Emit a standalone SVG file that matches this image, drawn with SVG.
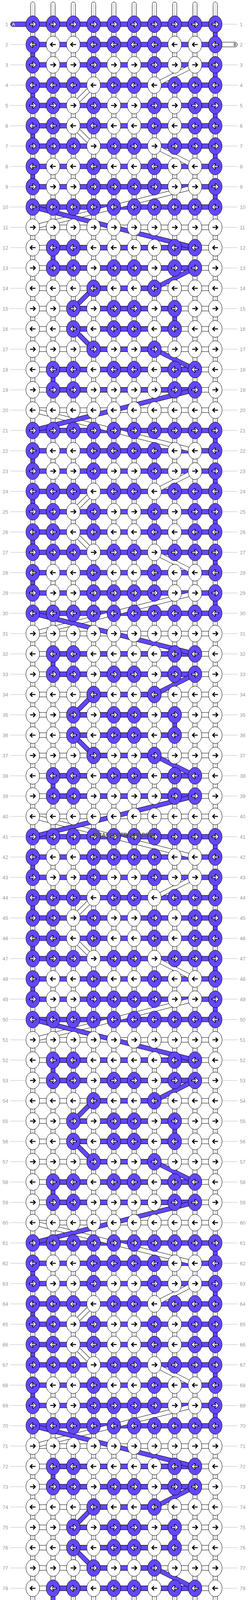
<svg xmlns="http://www.w3.org/2000/svg" width="636" height="4232" viewBox="0 0 636 4232">
<style>
.p{fill:#6347fd;stroke:#000;stroke-width:1}
.w{fill:#fff;stroke:#000;stroke-width:1}
.ab{fill:none;stroke:#000;stroke-width:2.6}
.ao{fill:none;stroke:#000;stroke-width:4.6;stroke-linecap:square}
.aw{fill:none;stroke:#fff;stroke-width:2.4}
.num{font-family:"Liberation Sans",Arial,sans-serif;font-size:13px;fill:#999}
.lt{font-family:"Liberation Sans",Arial,sans-serif;font-size:11px}
</style>
<defs>
<path id="ar" d="M-7 0H6M1-5.5L6.5 0 1 5.5"/>
<path id="al" d="M7 0H-6M-1-5.5L-6.5 0-1 5.5"/>
<g id="a"><ellipse rx="17.5" ry="21.5" class="p"/><use href="#ar" class="ao"/><use href="#ar" class="aw"/></g>
<g id="b"><ellipse rx="17.5" ry="21.5" class="w"/><use href="#ar" class="ab"/></g>
<g id="c"><ellipse rx="17.5" ry="21.5" class="p"/><use href="#al" class="ao"/><use href="#al" class="aw"/></g>
<g id="d"><ellipse rx="17.5" ry="21.5" class="w"/><use href="#al" class="ab"/></g>
<g id="DW" fill="none">
<path d="M500 166L396 218M240 218L188 270M188 322L240 374M396 374L500 426M500 478L84 582"/>
<path d="M84 1050L500 1154M500 1206L396 1258M240 1258L188 1310M188 1362L240 1414M396 1414L500 1466M500 1518L84 1622"/>
<path d="M84 2090L500 2194M500 2246L396 2298M240 2298L188 2350M188 2402L240 2454M396 2454L500 2506M500 2558L84 2662"/>
<path d="M84 3130L500 3234M500 3286L396 3338M240 3338L188 3390M188 3442L240 3494M396 3494L500 3546M500 3598L84 3702"/>
</g>
<g id="DP" fill="none">
<path d="M84 530L500 634M500 686L396 738M240 738L188 790M188 842L240 894M396 894L500 946M500 998L84 1102"/>
<path d="M84 1570L500 1674M500 1726L396 1778M240 1778L188 1830M188 1882L240 1934M396 1934L500 1986M500 2038L84 2142"/>
<path d="M84 2610L500 2714M500 2766L396 2818M240 2818L188 2870M188 2922L240 2974M396 2974L500 3026M500 3078L84 3182"/>
<path d="M84 3650L500 3754M500 3806L396 3858M240 3858L188 3910M188 3962L240 4014M396 4014L500 4066"/>
</g>
</defs>
<rect width="636" height="4232" fill="#fff"/>
<g id="warps">
<rect x="78.5" y="5" width="11" height="4222" rx="5.5" class="w"/>
<rect x="130.5" y="5" width="11" height="4222" rx="5.5" class="w"/>
<rect x="182.5" y="5" width="11" height="4222" rx="5.5" class="w"/>
<rect x="234.5" y="5" width="11" height="4222" rx="5.5" class="w"/>
<rect x="286.5" y="5" width="11" height="4222" rx="5.5" class="w"/>
<rect x="338.5" y="5" width="11" height="4222" rx="5.5" class="w"/>
<rect x="390.5" y="5" width="11" height="4222" rx="5.5" class="w"/>
<rect x="442.5" y="5" width="11" height="4222" rx="5.5" class="w"/>
<rect x="494.5" y="5" width="11" height="4222" rx="5.5" class="w"/>
<rect x="546.5" y="5" width="11" height="4222" rx="5.5" class="w"/>
<path d="M82.5 10V4222M85.5 10V4222M134.5 10V4222M137.5 10V4222M186.5 10V4222M189.5 10V4222M238.5 10V4222M241.5 10V4222M290.5 10V4222M293.5 10V4222M342.5 10V4222M345.5 10V4222M394.5 10V4222M397.5 10V4222M446.5 10V4222M449.5 10V4222M498.5 10V4222M501.5 10V4222M550.5 10V4222M553.5 10V4222" stroke="#bbb" stroke-width="1" fill="none"/>
</g>
<g id="connectors">
<rect x="545" y="108" width="64" height="12" rx="6" class="w"/>
<rect x="27" y="4164" width="525" height="12" rx="6" class="w"/>
<path class="w" d="M84 576h468v12H84zM84 628h468v12H84zM84 680h468v12H84zM84 732h468v12H84zM84 784h468v12H84zM84 836h468v12H84zM84 888h468v12H84zM84 940h468v12H84zM84 992h468v12H84zM84 1044h468v12H84zM84 1616h468v12H84zM84 1668h468v12H84zM84 1720h468v12H84zM84 1772h468v12H84zM84 1824h468v12H84zM84 1876h468v12H84zM84 1928h468v12H84zM84 1980h468v12H84zM84 2032h468v12H84zM84 2084h468v12H84zM84 2656h468v12H84zM84 2708h468v12H84zM84 2760h468v12H84zM84 2812h468v12H84zM84 2864h468v12H84zM84 2916h468v12H84zM84 2968h468v12H84zM84 3020h468v12H84zM84 3072h468v12H84zM84 3124h468v12H84zM84 3696h468v12H84zM84 3748h468v12H84zM84 3800h468v12H84zM84 3852h468v12H84zM84 3904h468v12H84zM84 3956h468v12H84zM84 4008h468v12H84zM84 4060h468v12H84zM84 4112h468v12H84z"/>
<rect x="27" y="56" width="525" height="12" rx="6" class="p"/>
<rect x="136" y="4112" width="473" height="12" rx="6" class="p"/>
<path class="p" d="M84 108h468v12H84zM84 160h468v12H84zM84 212h468v12H84zM84 264h468v12H84zM84 316h468v12H84zM84 368h468v12H84zM84 420h468v12H84zM84 472h468v12H84zM84 524h468v12H84zM84 1096h468v12H84zM84 1148h468v12H84zM84 1200h468v12H84zM84 1252h468v12H84zM84 1304h468v12H84zM84 1356h468v12H84zM84 1408h468v12H84zM84 1460h468v12H84zM84 1512h468v12H84zM84 1564h468v12H84zM84 2136h468v12H84zM84 2188h468v12H84zM84 2240h468v12H84zM84 2292h468v12H84zM84 2344h468v12H84zM84 2396h468v12H84zM84 2448h468v12H84zM84 2500h468v12H84zM84 2552h468v12H84zM84 2604h468v12H84zM84 3176h468v12H84zM84 3228h468v12H84zM84 3280h468v12H84zM84 3332h468v12H84zM84 3384h468v12H84zM84 3436h468v12H84zM84 3488h468v12H84zM84 3540h468v12H84zM84 3592h468v12H84zM84 3644h468v12H84z"/>
<path class="p" d="M136 628h364v12H136zM136 680h364v12H136zM136 940h364v12H136zM136 992h364v12H136zM136 1668h364v12H136zM136 1720h364v12H136zM136 1980h364v12H136zM136 2032h364v12H136zM136 2708h364v12H136zM136 2760h364v12H136zM136 3020h364v12H136zM136 3072h364v12H136zM136 3748h364v12H136zM136 3800h364v12H136zM136 4060h364v12H136z"/>
<path class="p" d="M240 732h156v12H240zM240 888h156v12H240zM240 1772h156v12H240zM240 1928h156v12H240zM240 2812h156v12H240zM240 2968h156v12H240zM240 3852h156v12H240zM240 4008h156v12H240z"/>
<path class="p" d="M188 784h260v12H188zM188 836h260v12H188zM188 1824h260v12H188zM188 1876h260v12H188zM188 2864h260v12H188zM188 2916h260v12H188zM188 3904h260v12H188zM188 3956h260v12H188z"/>
<path class="p" d="M546.5 77h11v22h-11zM546.5 181h11v22h-11zM546.5 285h11v22h-11zM546.5 389h11v22h-11zM546.5 493h11v22h-11zM78.5 129h11v22h-11zM78.5 233h11v22h-11zM78.5 337h11v22h-11zM78.5 441h11v22h-11zM130.5 649h11v22h-11zM130.5 961h11v22h-11zM442.5 805h11v22h-11zM546.5 1117h11v22h-11zM546.5 1221h11v22h-11zM546.5 1325h11v22h-11zM546.5 1429h11v22h-11zM546.5 1533h11v22h-11zM78.5 1169h11v22h-11zM78.5 1273h11v22h-11zM78.5 1377h11v22h-11zM78.5 1481h11v22h-11zM130.5 1689h11v22h-11zM130.5 2001h11v22h-11zM442.5 1845h11v22h-11zM546.5 2157h11v22h-11zM546.5 2261h11v22h-11zM546.5 2365h11v22h-11zM546.5 2469h11v22h-11zM546.5 2573h11v22h-11zM78.5 2209h11v22h-11zM78.5 2313h11v22h-11zM78.5 2417h11v22h-11zM78.5 2521h11v22h-11zM130.5 2729h11v22h-11zM130.5 3041h11v22h-11zM442.5 2885h11v22h-11zM546.5 3197h11v22h-11zM546.5 3301h11v22h-11zM546.5 3405h11v22h-11zM546.5 3509h11v22h-11zM546.5 3613h11v22h-11zM78.5 3249h11v22h-11zM78.5 3353h11v22h-11zM78.5 3457h11v22h-11zM78.5 3561h11v22h-11zM130.5 3769h11v22h-11zM130.5 4081h11v22h-11zM442.5 3925h11v22h-11z"/>
<use href="#DW" stroke="#000" stroke-width="12"/>
<use href="#DW" stroke="#fff" stroke-width="10"/>
<use href="#DP" stroke="#000" stroke-width="12"/>
<use href="#DP" stroke="#6347fd" stroke-width="10"/>
</g>
<g id="nodes">
<g id="row1" transform="translate(0 62)"><use id="n1-1" href="#a" x="84"/><use id="n1-2" href="#a" x="136"/><use id="n1-3" href="#a" x="188"/><use id="n1-4" href="#a" x="240"/><use id="n1-5" href="#a" x="292"/><use id="n1-6" href="#a" x="344"/><use id="n1-7" href="#a" x="396"/><use id="n1-8" href="#a" x="448"/><use id="n1-9" href="#a" x="500"/><use id="n1-10" href="#a" x="552"/></g>
<g id="row2" transform="translate(0 114)"><use id="n2-1" href="#c" x="84"/><use id="n2-2" href="#d" x="136"/><use id="n2-3" href="#d" x="188"/><use id="n2-4" href="#c" x="240"/><use id="n2-5" href="#c" x="292"/><use id="n2-6" href="#c" x="344"/><use id="n2-7" href="#c" x="396"/><use id="n2-8" href="#d" x="448"/><use id="n2-9" href="#d" x="500"/><use id="n2-10" href="#c" x="552"/></g>
<g id="row3" transform="translate(0 166)"><use id="n3-1" href="#a" x="84"/><use id="n3-2" href="#b" x="136"/><use id="n3-3" href="#b" x="188"/><use id="n3-4" href="#a" x="240"/><use id="n3-5" href="#b" x="292"/><use id="n3-6" href="#b" x="344"/><use id="n3-7" href="#a" x="396"/><use id="n3-8" href="#b" x="448"/><use id="n3-9" href="#b" x="500"/><use id="n3-10" href="#a" x="552"/></g>
<g id="row4" transform="translate(0 218)"><use id="n4-1" href="#c" x="84"/><use id="n4-2" href="#c" x="136"/><use id="n4-3" href="#c" x="188"/><use id="n4-4" href="#d" x="240"/><use id="n4-5" href="#c" x="292"/><use id="n4-6" href="#c" x="344"/><use id="n4-7" href="#d" x="396"/><use id="n4-8" href="#c" x="448"/><use id="n4-9" href="#c" x="500"/><use id="n4-10" href="#c" x="552"/></g>
<g id="row5" transform="translate(0 270)"><use id="n5-1" href="#a" x="84"/><use id="n5-2" href="#a" x="136"/><use id="n5-3" href="#b" x="188"/><use id="n5-4" href="#a" x="240"/><use id="n5-5" href="#b" x="292"/><use id="n5-6" href="#b" x="344"/><use id="n5-7" href="#a" x="396"/><use id="n5-8" href="#b" x="448"/><use id="n5-9" href="#a" x="500"/><use id="n5-10" href="#a" x="552"/></g>
<g id="row6" transform="translate(0 322)"><use id="n6-1" href="#c" x="84"/><use id="n6-2" href="#c" x="136"/><use id="n6-3" href="#d" x="188"/><use id="n6-4" href="#c" x="240"/><use id="n6-5" href="#d" x="292"/><use id="n6-6" href="#d" x="344"/><use id="n6-7" href="#c" x="396"/><use id="n6-8" href="#d" x="448"/><use id="n6-9" href="#c" x="500"/><use id="n6-10" href="#c" x="552"/></g>
<g id="row7" transform="translate(0 374)"><use id="n7-1" href="#a" x="84"/><use id="n7-2" href="#a" x="136"/><use id="n7-3" href="#a" x="188"/><use id="n7-4" href="#b" x="240"/><use id="n7-5" href="#a" x="292"/><use id="n7-6" href="#a" x="344"/><use id="n7-7" href="#b" x="396"/><use id="n7-8" href="#a" x="448"/><use id="n7-9" href="#a" x="500"/><use id="n7-10" href="#a" x="552"/></g>
<g id="row8" transform="translate(0 426)"><use id="n8-1" href="#c" x="84"/><use id="n8-2" href="#d" x="136"/><use id="n8-3" href="#d" x="188"/><use id="n8-4" href="#c" x="240"/><use id="n8-5" href="#d" x="292"/><use id="n8-6" href="#d" x="344"/><use id="n8-7" href="#c" x="396"/><use id="n8-8" href="#d" x="448"/><use id="n8-9" href="#d" x="500"/><use id="n8-10" href="#c" x="552"/></g>
<g id="row9" transform="translate(0 478)"><use id="n9-1" href="#a" x="84"/><use id="n9-2" href="#b" x="136"/><use id="n9-3" href="#b" x="188"/><use id="n9-4" href="#a" x="240"/><use id="n9-5" href="#a" x="292"/><use id="n9-6" href="#a" x="344"/><use id="n9-7" href="#a" x="396"/><use id="n9-8" href="#b" x="448"/><use id="n9-9" href="#b" x="500"/><use id="n9-10" href="#a" x="552"/></g>
<g id="row10" transform="translate(0 530)"><use id="n10-1" href="#c" x="84"/><use id="n10-2" href="#c" x="136"/><use id="n10-3" href="#c" x="188"/><use id="n10-4" href="#c" x="240"/><use id="n10-5" href="#c" x="292"/><use id="n10-6" href="#c" x="344"/><use id="n10-7" href="#c" x="396"/><use id="n10-8" href="#c" x="448"/><use id="n10-9" href="#c" x="500"/><use id="n10-10" href="#c" x="552"/></g>
<g id="row11" transform="translate(0 582)"><use id="n11-1" href="#b" x="84"/><use id="n11-2" href="#b" x="136"/><use id="n11-3" href="#b" x="188"/><use id="n11-4" href="#b" x="240"/><use id="n11-5" href="#b" x="292"/><use id="n11-6" href="#b" x="344"/><use id="n11-7" href="#b" x="396"/><use id="n11-8" href="#b" x="448"/><use id="n11-9" href="#b" x="500"/><use id="n11-10" href="#b" x="552"/></g>
<g id="row12" transform="translate(0 634)"><use id="n12-1" href="#d" x="84"/><use id="n12-2" href="#c" x="136"/><use id="n12-3" href="#c" x="188"/><use id="n12-4" href="#d" x="240"/><use id="n12-5" href="#d" x="292"/><use id="n12-6" href="#d" x="344"/><use id="n12-7" href="#d" x="396"/><use id="n12-8" href="#c" x="448"/><use id="n12-9" href="#c" x="500"/><use id="n12-10" href="#d" x="552"/></g>
<g id="row13" transform="translate(0 686)"><use id="n13-1" href="#b" x="84"/><use id="n13-2" href="#a" x="136"/><use id="n13-3" href="#a" x="188"/><use id="n13-4" href="#b" x="240"/><use id="n13-5" href="#a" x="292"/><use id="n13-6" href="#a" x="344"/><use id="n13-7" href="#b" x="396"/><use id="n13-8" href="#a" x="448"/><use id="n13-9" href="#a" x="500"/><use id="n13-10" href="#b" x="552"/></g>
<g id="row14" transform="translate(0 738)"><use id="n14-1" href="#d" x="84"/><use id="n14-2" href="#d" x="136"/><use id="n14-3" href="#d" x="188"/><use id="n14-4" href="#c" x="240"/><use id="n14-5" href="#d" x="292"/><use id="n14-6" href="#d" x="344"/><use id="n14-7" href="#c" x="396"/><use id="n14-8" href="#d" x="448"/><use id="n14-9" href="#d" x="500"/><use id="n14-10" href="#d" x="552"/></g>
<g id="row15" transform="translate(0 790)"><use id="n15-1" href="#b" x="84"/><use id="n15-2" href="#b" x="136"/><use id="n15-3" href="#a" x="188"/><use id="n15-4" href="#b" x="240"/><use id="n15-5" href="#a" x="292"/><use id="n15-6" href="#a" x="344"/><use id="n15-7" href="#b" x="396"/><use id="n15-8" href="#a" x="448"/><use id="n15-9" href="#b" x="500"/><use id="n15-10" href="#b" x="552"/></g>
<g id="row16" transform="translate(0 842)"><use id="n16-1" href="#d" x="84"/><use id="n16-2" href="#d" x="136"/><use id="n16-3" href="#c" x="188"/><use id="n16-4" href="#d" x="240"/><use id="n16-5" href="#c" x="292"/><use id="n16-6" href="#c" x="344"/><use id="n16-7" href="#d" x="396"/><use id="n16-8" href="#c" x="448"/><use id="n16-9" href="#d" x="500"/><use id="n16-10" href="#d" x="552"/></g>
<g id="row17" transform="translate(0 894)"><use id="n17-1" href="#b" x="84"/><use id="n17-2" href="#b" x="136"/><use id="n17-3" href="#b" x="188"/><use id="n17-4" href="#a" x="240"/><use id="n17-5" href="#b" x="292"/><use id="n17-6" href="#b" x="344"/><use id="n17-7" href="#a" x="396"/><use id="n17-8" href="#b" x="448"/><use id="n17-9" href="#b" x="500"/><use id="n17-10" href="#b" x="552"/></g>
<g id="row18" transform="translate(0 946)"><use id="n18-1" href="#d" x="84"/><use id="n18-2" href="#c" x="136"/><use id="n18-3" href="#c" x="188"/><use id="n18-4" href="#d" x="240"/><use id="n18-5" href="#c" x="292"/><use id="n18-6" href="#c" x="344"/><use id="n18-7" href="#d" x="396"/><use id="n18-8" href="#c" x="448"/><use id="n18-9" href="#c" x="500"/><use id="n18-10" href="#d" x="552"/></g>
<g id="row19" transform="translate(0 998)"><use id="n19-1" href="#b" x="84"/><use id="n19-2" href="#a" x="136"/><use id="n19-3" href="#a" x="188"/><use id="n19-4" href="#b" x="240"/><use id="n19-5" href="#b" x="292"/><use id="n19-6" href="#b" x="344"/><use id="n19-7" href="#b" x="396"/><use id="n19-8" href="#a" x="448"/><use id="n19-9" href="#a" x="500"/><use id="n19-10" href="#b" x="552"/></g>
<g id="row20" transform="translate(0 1050)"><use id="n20-1" href="#d" x="84"/><use id="n20-2" href="#d" x="136"/><use id="n20-3" href="#d" x="188"/><use id="n20-4" href="#d" x="240"/><use id="n20-5" href="#d" x="292"/><use id="n20-6" href="#d" x="344"/><use id="n20-7" href="#d" x="396"/><use id="n20-8" href="#d" x="448"/><use id="n20-9" href="#d" x="500"/><use id="n20-10" href="#d" x="552"/></g>
<g id="row21" transform="translate(0 1102)"><use id="n21-1" href="#a" x="84"/><use id="n21-2" href="#a" x="136"/><use id="n21-3" href="#a" x="188"/><use id="n21-4" href="#a" x="240"/><use id="n21-5" href="#a" x="292"/><use id="n21-6" href="#a" x="344"/><use id="n21-7" href="#a" x="396"/><use id="n21-8" href="#a" x="448"/><use id="n21-9" href="#a" x="500"/><use id="n21-10" href="#a" x="552"/></g>
<g id="row22" transform="translate(0 1154)"><use id="n22-1" href="#c" x="84"/><use id="n22-2" href="#d" x="136"/><use id="n22-3" href="#d" x="188"/><use id="n22-4" href="#c" x="240"/><use id="n22-5" href="#c" x="292"/><use id="n22-6" href="#c" x="344"/><use id="n22-7" href="#c" x="396"/><use id="n22-8" href="#d" x="448"/><use id="n22-9" href="#d" x="500"/><use id="n22-10" href="#c" x="552"/></g>
<g id="row23" transform="translate(0 1206)"><use id="n23-1" href="#a" x="84"/><use id="n23-2" href="#b" x="136"/><use id="n23-3" href="#b" x="188"/><use id="n23-4" href="#a" x="240"/><use id="n23-5" href="#b" x="292"/><use id="n23-6" href="#b" x="344"/><use id="n23-7" href="#a" x="396"/><use id="n23-8" href="#b" x="448"/><use id="n23-9" href="#b" x="500"/><use id="n23-10" href="#a" x="552"/></g>
<g id="row24" transform="translate(0 1258)"><use id="n24-1" href="#c" x="84"/><use id="n24-2" href="#c" x="136"/><use id="n24-3" href="#c" x="188"/><use id="n24-4" href="#d" x="240"/><use id="n24-5" href="#c" x="292"/><use id="n24-6" href="#c" x="344"/><use id="n24-7" href="#d" x="396"/><use id="n24-8" href="#c" x="448"/><use id="n24-9" href="#c" x="500"/><use id="n24-10" href="#c" x="552"/></g>
<g id="row25" transform="translate(0 1310)"><use id="n25-1" href="#a" x="84"/><use id="n25-2" href="#a" x="136"/><use id="n25-3" href="#b" x="188"/><use id="n25-4" href="#a" x="240"/><use id="n25-5" href="#b" x="292"/><use id="n25-6" href="#b" x="344"/><use id="n25-7" href="#a" x="396"/><use id="n25-8" href="#b" x="448"/><use id="n25-9" href="#a" x="500"/><use id="n25-10" href="#a" x="552"/></g>
<g id="row26" transform="translate(0 1362)"><use id="n26-1" href="#c" x="84"/><use id="n26-2" href="#c" x="136"/><use id="n26-3" href="#d" x="188"/><use id="n26-4" href="#c" x="240"/><use id="n26-5" href="#d" x="292"/><use id="n26-6" href="#d" x="344"/><use id="n26-7" href="#c" x="396"/><use id="n26-8" href="#d" x="448"/><use id="n26-9" href="#c" x="500"/><use id="n26-10" href="#c" x="552"/></g>
<g id="row27" transform="translate(0 1414)"><use id="n27-1" href="#a" x="84"/><use id="n27-2" href="#a" x="136"/><use id="n27-3" href="#a" x="188"/><use id="n27-4" href="#b" x="240"/><use id="n27-5" href="#a" x="292"/><use id="n27-6" href="#a" x="344"/><use id="n27-7" href="#b" x="396"/><use id="n27-8" href="#a" x="448"/><use id="n27-9" href="#a" x="500"/><use id="n27-10" href="#a" x="552"/></g>
<g id="row28" transform="translate(0 1466)"><use id="n28-1" href="#c" x="84"/><use id="n28-2" href="#d" x="136"/><use id="n28-3" href="#d" x="188"/><use id="n28-4" href="#c" x="240"/><use id="n28-5" href="#d" x="292"/><use id="n28-6" href="#d" x="344"/><use id="n28-7" href="#c" x="396"/><use id="n28-8" href="#d" x="448"/><use id="n28-9" href="#d" x="500"/><use id="n28-10" href="#c" x="552"/></g>
<g id="row29" transform="translate(0 1518)"><use id="n29-1" href="#a" x="84"/><use id="n29-2" href="#b" x="136"/><use id="n29-3" href="#b" x="188"/><use id="n29-4" href="#a" x="240"/><use id="n29-5" href="#a" x="292"/><use id="n29-6" href="#a" x="344"/><use id="n29-7" href="#a" x="396"/><use id="n29-8" href="#b" x="448"/><use id="n29-9" href="#b" x="500"/><use id="n29-10" href="#a" x="552"/></g>
<g id="row30" transform="translate(0 1570)"><use id="n30-1" href="#c" x="84"/><use id="n30-2" href="#c" x="136"/><use id="n30-3" href="#c" x="188"/><use id="n30-4" href="#c" x="240"/><use id="n30-5" href="#c" x="292"/><use id="n30-6" href="#c" x="344"/><use id="n30-7" href="#c" x="396"/><use id="n30-8" href="#c" x="448"/><use id="n30-9" href="#c" x="500"/><use id="n30-10" href="#c" x="552"/></g>
<g id="row31" transform="translate(0 1622)"><use id="n31-1" href="#b" x="84"/><use id="n31-2" href="#b" x="136"/><use id="n31-3" href="#b" x="188"/><use id="n31-4" href="#b" x="240"/><use id="n31-5" href="#b" x="292"/><use id="n31-6" href="#b" x="344"/><use id="n31-7" href="#b" x="396"/><use id="n31-8" href="#b" x="448"/><use id="n31-9" href="#b" x="500"/><use id="n31-10" href="#b" x="552"/></g>
<g id="row32" transform="translate(0 1674)"><use id="n32-1" href="#d" x="84"/><use id="n32-2" href="#c" x="136"/><use id="n32-3" href="#c" x="188"/><use id="n32-4" href="#d" x="240"/><use id="n32-5" href="#d" x="292"/><use id="n32-6" href="#d" x="344"/><use id="n32-7" href="#d" x="396"/><use id="n32-8" href="#c" x="448"/><use id="n32-9" href="#c" x="500"/><use id="n32-10" href="#d" x="552"/></g>
<g id="row33" transform="translate(0 1726)"><use id="n33-1" href="#b" x="84"/><use id="n33-2" href="#a" x="136"/><use id="n33-3" href="#a" x="188"/><use id="n33-4" href="#b" x="240"/><use id="n33-5" href="#a" x="292"/><use id="n33-6" href="#a" x="344"/><use id="n33-7" href="#b" x="396"/><use id="n33-8" href="#a" x="448"/><use id="n33-9" href="#a" x="500"/><use id="n33-10" href="#b" x="552"/></g>
<g id="row34" transform="translate(0 1778)"><use id="n34-1" href="#d" x="84"/><use id="n34-2" href="#d" x="136"/><use id="n34-3" href="#d" x="188"/><use id="n34-4" href="#c" x="240"/><use id="n34-5" href="#d" x="292"/><use id="n34-6" href="#d" x="344"/><use id="n34-7" href="#c" x="396"/><use id="n34-8" href="#d" x="448"/><use id="n34-9" href="#d" x="500"/><use id="n34-10" href="#d" x="552"/></g>
<g id="row35" transform="translate(0 1830)"><use id="n35-1" href="#b" x="84"/><use id="n35-2" href="#b" x="136"/><use id="n35-3" href="#a" x="188"/><use id="n35-4" href="#b" x="240"/><use id="n35-5" href="#a" x="292"/><use id="n35-6" href="#a" x="344"/><use id="n35-7" href="#b" x="396"/><use id="n35-8" href="#a" x="448"/><use id="n35-9" href="#b" x="500"/><use id="n35-10" href="#b" x="552"/></g>
<g id="row36" transform="translate(0 1882)"><use id="n36-1" href="#d" x="84"/><use id="n36-2" href="#d" x="136"/><use id="n36-3" href="#c" x="188"/><use id="n36-4" href="#d" x="240"/><use id="n36-5" href="#c" x="292"/><use id="n36-6" href="#c" x="344"/><use id="n36-7" href="#d" x="396"/><use id="n36-8" href="#c" x="448"/><use id="n36-9" href="#d" x="500"/><use id="n36-10" href="#d" x="552"/></g>
<g id="row37" transform="translate(0 1934)"><use id="n37-1" href="#b" x="84"/><use id="n37-2" href="#b" x="136"/><use id="n37-3" href="#b" x="188"/><use id="n37-4" href="#a" x="240"/><use id="n37-5" href="#b" x="292"/><use id="n37-6" href="#b" x="344"/><use id="n37-7" href="#a" x="396"/><use id="n37-8" href="#b" x="448"/><use id="n37-9" href="#b" x="500"/><use id="n37-10" href="#b" x="552"/></g>
<g id="row38" transform="translate(0 1986)"><use id="n38-1" href="#d" x="84"/><use id="n38-2" href="#c" x="136"/><use id="n38-3" href="#c" x="188"/><use id="n38-4" href="#d" x="240"/><use id="n38-5" href="#c" x="292"/><use id="n38-6" href="#c" x="344"/><use id="n38-7" href="#d" x="396"/><use id="n38-8" href="#c" x="448"/><use id="n38-9" href="#c" x="500"/><use id="n38-10" href="#d" x="552"/></g>
<g id="row39" transform="translate(0 2038)"><use id="n39-1" href="#b" x="84"/><use id="n39-2" href="#a" x="136"/><use id="n39-3" href="#a" x="188"/><use id="n39-4" href="#b" x="240"/><use id="n39-5" href="#b" x="292"/><use id="n39-6" href="#b" x="344"/><use id="n39-7" href="#b" x="396"/><use id="n39-8" href="#a" x="448"/><use id="n39-9" href="#a" x="500"/><use id="n39-10" href="#b" x="552"/></g>
<g id="row40" transform="translate(0 2090)"><use id="n40-1" href="#d" x="84"/><use id="n40-2" href="#d" x="136"/><use id="n40-3" href="#d" x="188"/><use id="n40-4" href="#d" x="240"/><use id="n40-5" href="#d" x="292"/><use id="n40-6" href="#d" x="344"/><use id="n40-7" href="#d" x="396"/><use id="n40-8" href="#d" x="448"/><use id="n40-9" href="#d" x="500"/><use id="n40-10" href="#d" x="552"/></g>
<g id="row41" transform="translate(0 2142)"><use id="n41-1" href="#a" x="84"/><use id="n41-2" href="#a" x="136"/><use id="n41-3" href="#a" x="188"/><use id="n41-4" href="#a" x="240"/><use id="n41-5" href="#a" x="292"/><use id="n41-6" href="#a" x="344"/><use id="n41-7" href="#a" x="396"/><use id="n41-8" href="#a" x="448"/><use id="n41-9" href="#a" x="500"/><use id="n41-10" href="#a" x="552"/></g>
<g id="row42" transform="translate(0 2194)"><use id="n42-1" href="#c" x="84"/><use id="n42-2" href="#d" x="136"/><use id="n42-3" href="#d" x="188"/><use id="n42-4" href="#c" x="240"/><use id="n42-5" href="#c" x="292"/><use id="n42-6" href="#c" x="344"/><use id="n42-7" href="#c" x="396"/><use id="n42-8" href="#d" x="448"/><use id="n42-9" href="#d" x="500"/><use id="n42-10" href="#c" x="552"/></g>
<g id="row43" transform="translate(0 2246)"><use id="n43-1" href="#a" x="84"/><use id="n43-2" href="#b" x="136"/><use id="n43-3" href="#b" x="188"/><use id="n43-4" href="#a" x="240"/><use id="n43-5" href="#b" x="292"/><use id="n43-6" href="#b" x="344"/><use id="n43-7" href="#a" x="396"/><use id="n43-8" href="#b" x="448"/><use id="n43-9" href="#b" x="500"/><use id="n43-10" href="#a" x="552"/></g>
<g id="row44" transform="translate(0 2298)"><use id="n44-1" href="#c" x="84"/><use id="n44-2" href="#c" x="136"/><use id="n44-3" href="#c" x="188"/><use id="n44-4" href="#d" x="240"/><use id="n44-5" href="#c" x="292"/><use id="n44-6" href="#c" x="344"/><use id="n44-7" href="#d" x="396"/><use id="n44-8" href="#c" x="448"/><use id="n44-9" href="#c" x="500"/><use id="n44-10" href="#c" x="552"/></g>
<g id="row45" transform="translate(0 2350)"><use id="n45-1" href="#a" x="84"/><use id="n45-2" href="#a" x="136"/><use id="n45-3" href="#b" x="188"/><use id="n45-4" href="#a" x="240"/><use id="n45-5" href="#b" x="292"/><use id="n45-6" href="#b" x="344"/><use id="n45-7" href="#a" x="396"/><use id="n45-8" href="#b" x="448"/><use id="n45-9" href="#a" x="500"/><use id="n45-10" href="#a" x="552"/></g>
<g id="row46" transform="translate(0 2402)"><use id="n46-1" href="#c" x="84"/><use id="n46-2" href="#c" x="136"/><use id="n46-3" href="#d" x="188"/><use id="n46-4" href="#c" x="240"/><use id="n46-5" href="#d" x="292"/><use id="n46-6" href="#d" x="344"/><use id="n46-7" href="#c" x="396"/><use id="n46-8" href="#d" x="448"/><use id="n46-9" href="#c" x="500"/><use id="n46-10" href="#c" x="552"/></g>
<g id="row47" transform="translate(0 2454)"><use id="n47-1" href="#a" x="84"/><use id="n47-2" href="#a" x="136"/><use id="n47-3" href="#a" x="188"/><use id="n47-4" href="#b" x="240"/><use id="n47-5" href="#a" x="292"/><use id="n47-6" href="#a" x="344"/><use id="n47-7" href="#b" x="396"/><use id="n47-8" href="#a" x="448"/><use id="n47-9" href="#a" x="500"/><use id="n47-10" href="#a" x="552"/></g>
<g id="row48" transform="translate(0 2506)"><use id="n48-1" href="#c" x="84"/><use id="n48-2" href="#d" x="136"/><use id="n48-3" href="#d" x="188"/><use id="n48-4" href="#c" x="240"/><use id="n48-5" href="#d" x="292"/><use id="n48-6" href="#d" x="344"/><use id="n48-7" href="#c" x="396"/><use id="n48-8" href="#d" x="448"/><use id="n48-9" href="#d" x="500"/><use id="n48-10" href="#c" x="552"/></g>
<g id="row49" transform="translate(0 2558)"><use id="n49-1" href="#a" x="84"/><use id="n49-2" href="#b" x="136"/><use id="n49-3" href="#b" x="188"/><use id="n49-4" href="#a" x="240"/><use id="n49-5" href="#a" x="292"/><use id="n49-6" href="#a" x="344"/><use id="n49-7" href="#a" x="396"/><use id="n49-8" href="#b" x="448"/><use id="n49-9" href="#b" x="500"/><use id="n49-10" href="#a" x="552"/></g>
<g id="row50" transform="translate(0 2610)"><use id="n50-1" href="#c" x="84"/><use id="n50-2" href="#c" x="136"/><use id="n50-3" href="#c" x="188"/><use id="n50-4" href="#c" x="240"/><use id="n50-5" href="#c" x="292"/><use id="n50-6" href="#c" x="344"/><use id="n50-7" href="#c" x="396"/><use id="n50-8" href="#c" x="448"/><use id="n50-9" href="#c" x="500"/><use id="n50-10" href="#c" x="552"/></g>
<g id="row51" transform="translate(0 2662)"><use id="n51-1" href="#b" x="84"/><use id="n51-2" href="#b" x="136"/><use id="n51-3" href="#b" x="188"/><use id="n51-4" href="#b" x="240"/><use id="n51-5" href="#b" x="292"/><use id="n51-6" href="#b" x="344"/><use id="n51-7" href="#b" x="396"/><use id="n51-8" href="#b" x="448"/><use id="n51-9" href="#b" x="500"/><use id="n51-10" href="#b" x="552"/></g>
<g id="row52" transform="translate(0 2714)"><use id="n52-1" href="#d" x="84"/><use id="n52-2" href="#c" x="136"/><use id="n52-3" href="#c" x="188"/><use id="n52-4" href="#d" x="240"/><use id="n52-5" href="#d" x="292"/><use id="n52-6" href="#d" x="344"/><use id="n52-7" href="#d" x="396"/><use id="n52-8" href="#c" x="448"/><use id="n52-9" href="#c" x="500"/><use id="n52-10" href="#d" x="552"/></g>
<g id="row53" transform="translate(0 2766)"><use id="n53-1" href="#b" x="84"/><use id="n53-2" href="#a" x="136"/><use id="n53-3" href="#a" x="188"/><use id="n53-4" href="#b" x="240"/><use id="n53-5" href="#a" x="292"/><use id="n53-6" href="#a" x="344"/><use id="n53-7" href="#b" x="396"/><use id="n53-8" href="#a" x="448"/><use id="n53-9" href="#a" x="500"/><use id="n53-10" href="#b" x="552"/></g>
<g id="row54" transform="translate(0 2818)"><use id="n54-1" href="#d" x="84"/><use id="n54-2" href="#d" x="136"/><use id="n54-3" href="#d" x="188"/><use id="n54-4" href="#c" x="240"/><use id="n54-5" href="#d" x="292"/><use id="n54-6" href="#d" x="344"/><use id="n54-7" href="#c" x="396"/><use id="n54-8" href="#d" x="448"/><use id="n54-9" href="#d" x="500"/><use id="n54-10" href="#d" x="552"/></g>
<g id="row55" transform="translate(0 2870)"><use id="n55-1" href="#b" x="84"/><use id="n55-2" href="#b" x="136"/><use id="n55-3" href="#a" x="188"/><use id="n55-4" href="#b" x="240"/><use id="n55-5" href="#a" x="292"/><use id="n55-6" href="#a" x="344"/><use id="n55-7" href="#b" x="396"/><use id="n55-8" href="#a" x="448"/><use id="n55-9" href="#b" x="500"/><use id="n55-10" href="#b" x="552"/></g>
<g id="row56" transform="translate(0 2922)"><use id="n56-1" href="#d" x="84"/><use id="n56-2" href="#d" x="136"/><use id="n56-3" href="#c" x="188"/><use id="n56-4" href="#d" x="240"/><use id="n56-5" href="#c" x="292"/><use id="n56-6" href="#c" x="344"/><use id="n56-7" href="#d" x="396"/><use id="n56-8" href="#c" x="448"/><use id="n56-9" href="#d" x="500"/><use id="n56-10" href="#d" x="552"/></g>
<g id="row57" transform="translate(0 2974)"><use id="n57-1" href="#b" x="84"/><use id="n57-2" href="#b" x="136"/><use id="n57-3" href="#b" x="188"/><use id="n57-4" href="#a" x="240"/><use id="n57-5" href="#b" x="292"/><use id="n57-6" href="#b" x="344"/><use id="n57-7" href="#a" x="396"/><use id="n57-8" href="#b" x="448"/><use id="n57-9" href="#b" x="500"/><use id="n57-10" href="#b" x="552"/></g>
<g id="row58" transform="translate(0 3026)"><use id="n58-1" href="#d" x="84"/><use id="n58-2" href="#c" x="136"/><use id="n58-3" href="#c" x="188"/><use id="n58-4" href="#d" x="240"/><use id="n58-5" href="#c" x="292"/><use id="n58-6" href="#c" x="344"/><use id="n58-7" href="#d" x="396"/><use id="n58-8" href="#c" x="448"/><use id="n58-9" href="#c" x="500"/><use id="n58-10" href="#d" x="552"/></g>
<g id="row59" transform="translate(0 3078)"><use id="n59-1" href="#b" x="84"/><use id="n59-2" href="#a" x="136"/><use id="n59-3" href="#a" x="188"/><use id="n59-4" href="#b" x="240"/><use id="n59-5" href="#b" x="292"/><use id="n59-6" href="#b" x="344"/><use id="n59-7" href="#b" x="396"/><use id="n59-8" href="#a" x="448"/><use id="n59-9" href="#a" x="500"/><use id="n59-10" href="#b" x="552"/></g>
<g id="row60" transform="translate(0 3130)"><use id="n60-1" href="#d" x="84"/><use id="n60-2" href="#d" x="136"/><use id="n60-3" href="#d" x="188"/><use id="n60-4" href="#d" x="240"/><use id="n60-5" href="#d" x="292"/><use id="n60-6" href="#d" x="344"/><use id="n60-7" href="#d" x="396"/><use id="n60-8" href="#d" x="448"/><use id="n60-9" href="#d" x="500"/><use id="n60-10" href="#d" x="552"/></g>
<g id="row61" transform="translate(0 3182)"><use id="n61-1" href="#a" x="84"/><use id="n61-2" href="#a" x="136"/><use id="n61-3" href="#a" x="188"/><use id="n61-4" href="#a" x="240"/><use id="n61-5" href="#a" x="292"/><use id="n61-6" href="#a" x="344"/><use id="n61-7" href="#a" x="396"/><use id="n61-8" href="#a" x="448"/><use id="n61-9" href="#a" x="500"/><use id="n61-10" href="#a" x="552"/></g>
<g id="row62" transform="translate(0 3234)"><use id="n62-1" href="#c" x="84"/><use id="n62-2" href="#d" x="136"/><use id="n62-3" href="#d" x="188"/><use id="n62-4" href="#c" x="240"/><use id="n62-5" href="#c" x="292"/><use id="n62-6" href="#c" x="344"/><use id="n62-7" href="#c" x="396"/><use id="n62-8" href="#d" x="448"/><use id="n62-9" href="#d" x="500"/><use id="n62-10" href="#c" x="552"/></g>
<g id="row63" transform="translate(0 3286)"><use id="n63-1" href="#a" x="84"/><use id="n63-2" href="#b" x="136"/><use id="n63-3" href="#b" x="188"/><use id="n63-4" href="#a" x="240"/><use id="n63-5" href="#b" x="292"/><use id="n63-6" href="#b" x="344"/><use id="n63-7" href="#a" x="396"/><use id="n63-8" href="#b" x="448"/><use id="n63-9" href="#b" x="500"/><use id="n63-10" href="#a" x="552"/></g>
<g id="row64" transform="translate(0 3338)"><use id="n64-1" href="#c" x="84"/><use id="n64-2" href="#c" x="136"/><use id="n64-3" href="#c" x="188"/><use id="n64-4" href="#d" x="240"/><use id="n64-5" href="#c" x="292"/><use id="n64-6" href="#c" x="344"/><use id="n64-7" href="#d" x="396"/><use id="n64-8" href="#c" x="448"/><use id="n64-9" href="#c" x="500"/><use id="n64-10" href="#c" x="552"/></g>
<g id="row65" transform="translate(0 3390)"><use id="n65-1" href="#a" x="84"/><use id="n65-2" href="#a" x="136"/><use id="n65-3" href="#b" x="188"/><use id="n65-4" href="#a" x="240"/><use id="n65-5" href="#b" x="292"/><use id="n65-6" href="#b" x="344"/><use id="n65-7" href="#a" x="396"/><use id="n65-8" href="#b" x="448"/><use id="n65-9" href="#a" x="500"/><use id="n65-10" href="#a" x="552"/></g>
<g id="row66" transform="translate(0 3442)"><use id="n66-1" href="#c" x="84"/><use id="n66-2" href="#c" x="136"/><use id="n66-3" href="#d" x="188"/><use id="n66-4" href="#c" x="240"/><use id="n66-5" href="#d" x="292"/><use id="n66-6" href="#d" x="344"/><use id="n66-7" href="#c" x="396"/><use id="n66-8" href="#d" x="448"/><use id="n66-9" href="#c" x="500"/><use id="n66-10" href="#c" x="552"/></g>
<g id="row67" transform="translate(0 3494)"><use id="n67-1" href="#a" x="84"/><use id="n67-2" href="#a" x="136"/><use id="n67-3" href="#a" x="188"/><use id="n67-4" href="#b" x="240"/><use id="n67-5" href="#a" x="292"/><use id="n67-6" href="#a" x="344"/><use id="n67-7" href="#b" x="396"/><use id="n67-8" href="#a" x="448"/><use id="n67-9" href="#a" x="500"/><use id="n67-10" href="#a" x="552"/></g>
<g id="row68" transform="translate(0 3546)"><use id="n68-1" href="#c" x="84"/><use id="n68-2" href="#d" x="136"/><use id="n68-3" href="#d" x="188"/><use id="n68-4" href="#c" x="240"/><use id="n68-5" href="#d" x="292"/><use id="n68-6" href="#d" x="344"/><use id="n68-7" href="#c" x="396"/><use id="n68-8" href="#d" x="448"/><use id="n68-9" href="#d" x="500"/><use id="n68-10" href="#c" x="552"/></g>
<g id="row69" transform="translate(0 3598)"><use id="n69-1" href="#a" x="84"/><use id="n69-2" href="#b" x="136"/><use id="n69-3" href="#b" x="188"/><use id="n69-4" href="#a" x="240"/><use id="n69-5" href="#a" x="292"/><use id="n69-6" href="#a" x="344"/><use id="n69-7" href="#a" x="396"/><use id="n69-8" href="#b" x="448"/><use id="n69-9" href="#b" x="500"/><use id="n69-10" href="#a" x="552"/></g>
<g id="row70" transform="translate(0 3650)"><use id="n70-1" href="#c" x="84"/><use id="n70-2" href="#c" x="136"/><use id="n70-3" href="#c" x="188"/><use id="n70-4" href="#c" x="240"/><use id="n70-5" href="#c" x="292"/><use id="n70-6" href="#c" x="344"/><use id="n70-7" href="#c" x="396"/><use id="n70-8" href="#c" x="448"/><use id="n70-9" href="#c" x="500"/><use id="n70-10" href="#c" x="552"/></g>
<g id="row71" transform="translate(0 3702)"><use id="n71-1" href="#b" x="84"/><use id="n71-2" href="#b" x="136"/><use id="n71-3" href="#b" x="188"/><use id="n71-4" href="#b" x="240"/><use id="n71-5" href="#b" x="292"/><use id="n71-6" href="#b" x="344"/><use id="n71-7" href="#b" x="396"/><use id="n71-8" href="#b" x="448"/><use id="n71-9" href="#b" x="500"/><use id="n71-10" href="#b" x="552"/></g>
<g id="row72" transform="translate(0 3754)"><use id="n72-1" href="#d" x="84"/><use id="n72-2" href="#c" x="136"/><use id="n72-3" href="#c" x="188"/><use id="n72-4" href="#d" x="240"/><use id="n72-5" href="#d" x="292"/><use id="n72-6" href="#d" x="344"/><use id="n72-7" href="#d" x="396"/><use id="n72-8" href="#c" x="448"/><use id="n72-9" href="#c" x="500"/><use id="n72-10" href="#d" x="552"/></g>
<g id="row73" transform="translate(0 3806)"><use id="n73-1" href="#b" x="84"/><use id="n73-2" href="#a" x="136"/><use id="n73-3" href="#a" x="188"/><use id="n73-4" href="#b" x="240"/><use id="n73-5" href="#a" x="292"/><use id="n73-6" href="#a" x="344"/><use id="n73-7" href="#b" x="396"/><use id="n73-8" href="#a" x="448"/><use id="n73-9" href="#a" x="500"/><use id="n73-10" href="#b" x="552"/></g>
<g id="row74" transform="translate(0 3858)"><use id="n74-1" href="#d" x="84"/><use id="n74-2" href="#d" x="136"/><use id="n74-3" href="#d" x="188"/><use id="n74-4" href="#c" x="240"/><use id="n74-5" href="#d" x="292"/><use id="n74-6" href="#d" x="344"/><use id="n74-7" href="#c" x="396"/><use id="n74-8" href="#d" x="448"/><use id="n74-9" href="#d" x="500"/><use id="n74-10" href="#d" x="552"/></g>
<g id="row75" transform="translate(0 3910)"><use id="n75-1" href="#b" x="84"/><use id="n75-2" href="#b" x="136"/><use id="n75-3" href="#a" x="188"/><use id="n75-4" href="#b" x="240"/><use id="n75-5" href="#a" x="292"/><use id="n75-6" href="#a" x="344"/><use id="n75-7" href="#b" x="396"/><use id="n75-8" href="#a" x="448"/><use id="n75-9" href="#b" x="500"/><use id="n75-10" href="#b" x="552"/></g>
<g id="row76" transform="translate(0 3962)"><use id="n76-1" href="#d" x="84"/><use id="n76-2" href="#d" x="136"/><use id="n76-3" href="#c" x="188"/><use id="n76-4" href="#d" x="240"/><use id="n76-5" href="#c" x="292"/><use id="n76-6" href="#c" x="344"/><use id="n76-7" href="#d" x="396"/><use id="n76-8" href="#c" x="448"/><use id="n76-9" href="#d" x="500"/><use id="n76-10" href="#d" x="552"/></g>
<g id="row77" transform="translate(0 4014)"><use id="n77-1" href="#b" x="84"/><use id="n77-2" href="#b" x="136"/><use id="n77-3" href="#b" x="188"/><use id="n77-4" href="#a" x="240"/><use id="n77-5" href="#b" x="292"/><use id="n77-6" href="#b" x="344"/><use id="n77-7" href="#a" x="396"/><use id="n77-8" href="#b" x="448"/><use id="n77-9" href="#b" x="500"/><use id="n77-10" href="#b" x="552"/></g>
<g id="row78" transform="translate(0 4066)"><use id="n78-1" href="#d" x="84"/><use id="n78-2" href="#c" x="136"/><use id="n78-3" href="#c" x="188"/><use id="n78-4" href="#d" x="240"/><use id="n78-5" href="#c" x="292"/><use id="n78-6" href="#c" x="344"/><use id="n78-7" href="#d" x="396"/><use id="n78-8" href="#c" x="448"/><use id="n78-9" href="#c" x="500"/><use id="n78-10" href="#d" x="552"/></g>
<g id="row79" transform="translate(0 4118)"><use id="n79-1" href="#b" x="84"/><use id="n79-2" href="#a" x="136"/><use id="n79-3" href="#a" x="188"/><use id="n79-4" href="#b" x="240"/><use id="n79-5" href="#b" x="292"/><use id="n79-6" href="#b" x="344"/><use id="n79-7" href="#b" x="396"/><use id="n79-8" href="#a" x="448"/><use id="n79-9" href="#a" x="500"/><use id="n79-10" href="#b" x="552"/></g>
<g id="row80" transform="translate(0 4170)"><use id="n80-1" href="#d" x="84"/><use id="n80-2" href="#d" x="136"/><use id="n80-3" href="#d" x="188"/><use id="n80-4" href="#d" x="240"/><use id="n80-5" href="#d" x="292"/><use id="n80-6" href="#d" x="344"/><use id="n80-7" href="#d" x="396"/><use id="n80-8" href="#d" x="448"/><use id="n80-9" href="#d" x="500"/><use id="n80-10" href="#d" x="552"/></g>
</g>
<g id="labels">
<path stroke="#bbb" stroke-width="1" fill="none" d="M26 114h41M26 166h41M26 218h41M26 270h41M26 322h41M26 374h41M26 426h41M26 478h41M26 530h41M26 582h41M26 634h41M26 686h41M26 738h41M26 790h41M26 842h41M26 894h41M26 946h41M26 998h41M26 1050h41M26 1102h41M26 1154h41M26 1206h41M26 1258h41M26 1310h41M26 1362h41M26 1414h41M26 1466h41M26 1518h41M26 1570h41M26 1622h41M26 1674h41M26 1726h41M26 1778h41M26 1830h41M26 1882h41M26 1934h41M26 1986h41M26 2038h41M26 2090h41M26 2142h41M26 2194h41M26 2246h41M26 2298h41M26 2350h41M26 2402h41M26 2454h41M26 2506h41M26 2558h41M26 2610h41M26 2662h41M26 2714h41M26 2766h41M26 2818h41M26 2870h41M26 2922h41M26 2974h41M26 3026h41M26 3078h41M26 3130h41M26 3182h41M26 3234h41M26 3286h41M26 3338h41M26 3390h41M26 3442h41M26 3494h41M26 3546h41M26 3598h41M26 3650h41M26 3702h41M26 3754h41M26 3806h41M26 3858h41M26 3910h41M26 3962h41M26 4014h41M26 4066h41M26 4118h41M569 62h40M569 166h40M569 218h40M569 270h40M569 322h40M569 374h40M569 426h40M569 478h40M569 530h40M569 582h40M569 634h40M569 686h40M569 738h40M569 790h40M569 842h40M569 894h40M569 946h40M569 998h40M569 1050h40M569 1102h40M569 1154h40M569 1206h40M569 1258h40M569 1310h40M569 1362h40M569 1414h40M569 1466h40M569 1518h40M569 1570h40M569 1622h40M569 1674h40M569 1726h40M569 1778h40M569 1830h40M569 1882h40M569 1934h40M569 1986h40M569 2038h40M569 2090h40M569 2142h40M569 2194h40M569 2246h40M569 2298h40M569 2350h40M569 2402h40M569 2454h40M569 2506h40M569 2558h40M569 2610h40M569 2662h40M569 2714h40M569 2766h40M569 2818h40M569 2870h40M569 2922h40M569 2974h40M569 3026h40M569 3078h40M569 3130h40M569 3182h40M569 3234h40M569 3286h40M569 3338h40M569 3390h40M569 3442h40M569 3494h40M569 3546h40M569 3598h40M569 3650h40M569 3702h40M569 3754h40M569 3806h40M569 3858h40M569 3910h40M569 3962h40M569 4014h40M569 4066h40M569 4170h40"/>
<g class="num" text-anchor="end">
<text x="21" y="67">1</text><text x="21" y="119">2</text><text x="21" y="171">3</text><text x="21" y="223">4</text><text x="21" y="275">5</text><text x="21" y="327">6</text><text x="21" y="379">7</text><text x="21" y="431">8</text><text x="21" y="483">9</text><text x="21" y="535">10</text>
<text x="21" y="587">11</text><text x="21" y="639">12</text><text x="21" y="691">13</text><text x="21" y="743">14</text><text x="21" y="795">15</text><text x="21" y="847">16</text><text x="21" y="899">17</text><text x="21" y="951">18</text><text x="21" y="1003">19</text><text x="21" y="1055">20</text>
<text x="21" y="1107">21</text><text x="21" y="1159">22</text><text x="21" y="1211">23</text><text x="21" y="1263">24</text><text x="21" y="1315">25</text><text x="21" y="1367">26</text><text x="21" y="1419">27</text><text x="21" y="1471">28</text><text x="21" y="1523">29</text><text x="21" y="1575">30</text>
<text x="21" y="1627">31</text><text x="21" y="1679">32</text><text x="21" y="1731">33</text><text x="21" y="1783">34</text><text x="21" y="1835">35</text><text x="21" y="1887">36</text><text x="21" y="1939">37</text><text x="21" y="1991">38</text><text x="21" y="2043">39</text><text x="21" y="2095">40</text>
<text x="21" y="2147">41</text><text x="21" y="2199">42</text><text x="21" y="2251">43</text><text x="21" y="2303">44</text><text x="21" y="2355">45</text><text x="21" y="2407">46</text><text x="21" y="2459">47</text><text x="21" y="2511">48</text><text x="21" y="2563">49</text><text x="21" y="2615">50</text>
<text x="21" y="2667">51</text><text x="21" y="2719">52</text><text x="21" y="2771">53</text><text x="21" y="2823">54</text><text x="21" y="2875">55</text><text x="21" y="2927">56</text><text x="21" y="2979">57</text><text x="21" y="3031">58</text><text x="21" y="3083">59</text><text x="21" y="3135">60</text>
<text x="21" y="3187">61</text><text x="21" y="3239">62</text><text x="21" y="3291">63</text><text x="21" y="3343">64</text><text x="21" y="3395">65</text><text x="21" y="3447">66</text><text x="21" y="3499">67</text><text x="21" y="3551">68</text><text x="21" y="3603">69</text><text x="21" y="3655">70</text>
<text x="21" y="3707">71</text><text x="21" y="3759">72</text><text x="21" y="3811">73</text><text x="21" y="3863">74</text><text x="21" y="3915">75</text><text x="21" y="3967">76</text><text x="21" y="4019">77</text><text x="21" y="4071">78</text><text x="21" y="4123">79</text><text x="21" y="4175">80</text>
</g>
<g class="num">
<text x="615" y="67">1</text><text x="615" y="119">2</text><text x="615" y="171">3</text><text x="615" y="223">4</text><text x="615" y="275">5</text><text x="615" y="327">6</text><text x="615" y="379">7</text><text x="615" y="431">8</text><text x="615" y="483">9</text><text x="615" y="535">10</text>
<text x="615" y="587">11</text><text x="615" y="639">12</text><text x="615" y="691">13</text><text x="615" y="743">14</text><text x="615" y="795">15</text><text x="615" y="847">16</text><text x="615" y="899">17</text><text x="615" y="951">18</text><text x="615" y="1003">19</text><text x="615" y="1055">20</text>
<text x="615" y="1107">21</text><text x="615" y="1159">22</text><text x="615" y="1211">23</text><text x="615" y="1263">24</text><text x="615" y="1315">25</text><text x="615" y="1367">26</text><text x="615" y="1419">27</text><text x="615" y="1471">28</text><text x="615" y="1523">29</text><text x="615" y="1575">30</text>
<text x="615" y="1627">31</text><text x="615" y="1679">32</text><text x="615" y="1731">33</text><text x="615" y="1783">34</text><text x="615" y="1835">35</text><text x="615" y="1887">36</text><text x="615" y="1939">37</text><text x="615" y="1991">38</text><text x="615" y="2043">39</text><text x="615" y="2095">40</text>
<text x="615" y="2147">41</text><text x="615" y="2199">42</text><text x="615" y="2251">43</text><text x="615" y="2303">44</text><text x="615" y="2355">45</text><text x="615" y="2407">46</text><text x="615" y="2459">47</text><text x="615" y="2511">48</text><text x="615" y="2563">49</text><text x="615" y="2615">50</text>
<text x="615" y="2667">51</text><text x="615" y="2719">52</text><text x="615" y="2771">53</text><text x="615" y="2823">54</text><text x="615" y="2875">55</text><text x="615" y="2927">56</text><text x="615" y="2979">57</text><text x="615" y="3031">58</text><text x="615" y="3083">59</text><text x="615" y="3135">60</text>
<text x="615" y="3187">61</text><text x="615" y="3239">62</text><text x="615" y="3291">63</text><text x="615" y="3343">64</text><text x="615" y="3395">65</text><text x="615" y="3447">66</text><text x="615" y="3499">67</text><text x="615" y="3551">68</text><text x="615" y="3603">69</text><text x="615" y="3655">70</text>
<text x="615" y="3707">71</text><text x="615" y="3759">72</text><text x="615" y="3811">73</text><text x="615" y="3863">74</text><text x="615" y="3915">75</text><text x="615" y="3967">76</text><text x="615" y="4019">77</text><text x="615" y="4071">78</text><text x="615" y="4123">79</text><text x="615" y="4175">80</text>
</g>
<text class="lt" x="31" y="66" fill="#fff">A</text>
<text class="lt" x="599" y="118" fill="#000">B</text>
<text class="lt" x="599" y="4122" fill="#fff">A</text>
<text class="lt" x="31" y="4174" fill="#000">B</text>
<text x="318" y="2142" text-anchor="middle" font-family="Liberation Sans,Arial,sans-serif" font-weight="bold" font-size="14" fill="#555" textLength="154" lengthAdjust="spacingAndGlyphs">BRACELETBOOK.COM</text>
</g>
</svg>
